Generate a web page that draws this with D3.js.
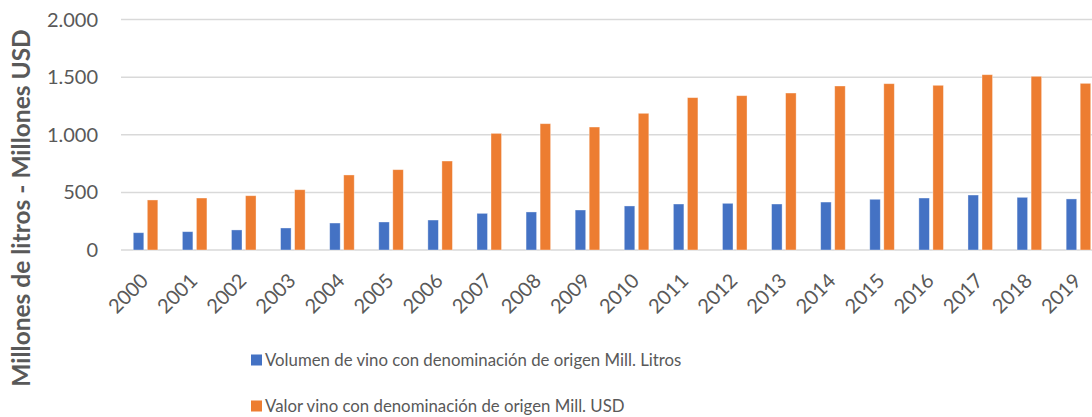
<!DOCTYPE html>
<html>
<head>
<meta charset="utf-8">
<script src="https://cdn.jsdelivr.net/npm/d3@7"></script>
<style>
  body { margin: 0; background: #fff; }
  svg { display: block; overflow: hidden; }
  text { font-family: Lato, "Open Sans", sans-serif; fill: #595959; }
</style>
</head>
<body>
<div id="chart"></div>
<script>
// data
const years = ['2000','2001','2002','2003','2004','2005','2006','2007','2008','2009',
  '2010','2011','2012','2013','2014','2015','2016','2017','2018','2019'];
const volumen = [150,159,174,191,234,243,260,318,330,347,382,399,405,399,416,440,451,477,457,443];
const valor = [434,451,471,523,651,697,772,1012,1096,1067,1186,1322,1339,1362,1423,1443,1429,1521,1507,1446];
const seriesNames = [
  'Volumen de vino con denominación de origen Mill. Litros',
  'Valor vino con denominación de origen Mill. USD'
];
const seriesColors = ['#4472C4', '#ED7D31'];
const yTicks = [0, 500, 1000, 1500, 2000];
const yLabel = 'Millones de litros - Millones USD';

const width = 1092;
const height = 417;
const marginLeft = 121;
const plotRight = 1103; // plot runs past the right edge of the picture
const yTop = 19.5;
const yBottom = 250;

const locale = d3.formatLocale({ decimal: ',', thousands: '.', grouping: [3], currency: ['', ''] });
const fmt = locale.format(',d');

const rows = years.map((y, i) => ({ year: y, values: [volumen[i], valor[i]] }));

const $svg = d3.select('#chart').append('svg')
  .attr('width', width)
  .attr('height', height);

// scales
const x0 = d3.scaleBand()
  .domain(years)
  .range([marginLeft, plotRight])
  .paddingInner(0.5)
  .paddingOuter(0.25);

const x1 = d3.scaleBand()
  .domain([0, 1])
  .range([0, x0.bandwidth()])
  .paddingInner(0.25);

const y = d3.scaleLinear()
  .domain([0, 2000])
  .range([yBottom, yTop]);

// gridlines
$svg.append('g')
  .selectAll('line')
  .data(yTicks)
  .join('line')
  .attr('x1', marginLeft)
  .attr('x2', width)
  .attr('y1', d => y(d))
  .attr('y2', d => y(d))
  .attr('stroke', '#d9d9d9')
  .attr('stroke-width', 1.5);

// y tick labels
$svg.append('g')
  .selectAll('text')
  .data(yTicks)
  .join('text')
  .attr('x', 98)
  .attr('y', d => y(d))
  .attr('dy', '0.35em')
  .attr('text-anchor', 'end')
  .style('font-size', '20px')
  .text(d => fmt(d));

// bars
const groups = $svg.append('g')
  .selectAll('g')
  .data(rows)
  .join('g')
  .attr('transform', d => `translate(${x0(d.year)},0)`);

groups.selectAll('rect')
  .data(d => d.values)
  .join('rect')
  .attr('x', (d, i) => x1(i))
  .attr('y', d => y(d))
  .attr('width', x1.bandwidth())
  .attr('height', d => y(0) - y(d))
  .attr('fill', (d, i) => seriesColors[i])
  .attr('stroke', '#fff')
  .attr('stroke-opacity', 0.45)
  .attr('stroke-width', 0.8);

// x labels, rotated
$svg.append('g')
  .selectAll('text')
  .data(years)
  .join('text')
  .attr('transform', d => `translate(${x0(d) + x0.bandwidth() / 2 + 4},282) rotate(-45)`)
  .attr('text-anchor', 'end')
  .style('font-size', '20px')
  .text(d => d);

// y axis title
$svg.append('text')
  .attr('transform', 'translate(30,208) rotate(-90)')
  .attr('text-anchor', 'middle')
  .style('font-size', '24.5px')
  .style('font-weight', 'bold')
  .text(yLabel);

// legend
const legend = $svg.append('g')
  .selectAll('g')
  .data(seriesNames)
  .join('g')
  .attr('transform', (d, i) => `translate(251,${360 + i * 46})`);

legend.append('rect')
  .attr('x', 0)
  .attr('y', -5.5)
  .attr('width', 11)
  .attr('height', 11)
  .attr('fill', (d, i) => seriesColors[i]);

legend.append('text')
  .attr('x', 14)
  .attr('y', 0)
  .attr('dy', '0.35em')
  .style('font-size', '16.8px')
  .text(d => d);
</script>
</body>
</html>
